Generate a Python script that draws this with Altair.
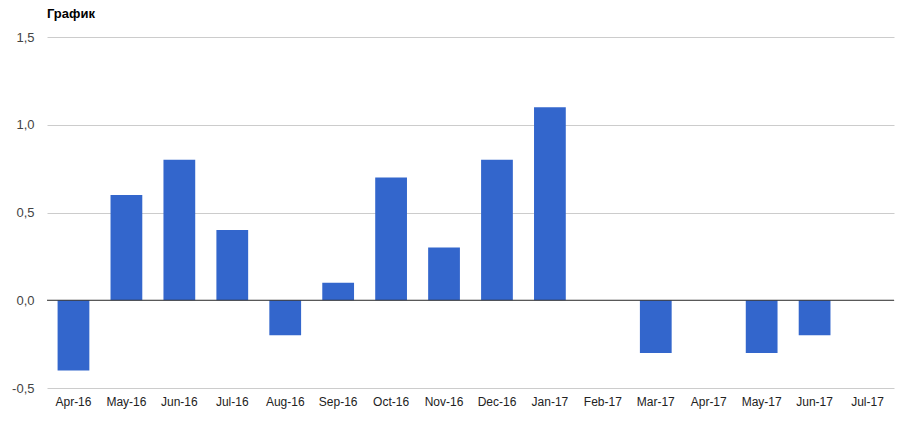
import altair as alt
import pandas as pd

months = ["Apr-16", "May-16", "Jun-16", "Jul-16", "Aug-16", "Sep-16", "Oct-16", "Nov-16",
          "Dec-16", "Jan-17", "Feb-17", "Mar-17", "Apr-17", "May-17", "Jun-17", "Jul-17"]
values = [-0.4, 0.6, 0.8, 0.4, -0.2, 0.1, 0.7, 0.3, 0.8, 1.1, 0.0, -0.3, 0.0, -0.3, -0.2, 0.0]
y_ticks = [-0.5, 0.0, 0.5, 1.0, 1.5]

df = pd.DataFrame({"month": months, "value": values})
FONT = "Liberation Sans"

label_expr = "(datum.value < 0 ? '-' : '') + replace(format(abs(datum.value), '.1f'), '.', ',')"

bars = alt.Chart(df).mark_bar(color="#3366cc").encode(
    x=alt.X("month:N", sort=months,
            scale=alt.Scale(paddingInner=0.4, paddingOuter=0.2),
            axis=alt.Axis(title=None, labelAngle=0, domain=False, ticks=False,
                          labelPadding=8, labelFontSize=12, labelColor="#222222",
                          labelFont=FONT)),
    y=alt.Y("value:Q", scale=alt.Scale(domain=[-0.5, 1.5], nice=False),
            axis=alt.Axis(title=None, values=y_ticks, labelExpr=label_expr,
                          domain=False, ticks=False, labelPadding=13,
                          labelFontSize=13, labelColor="#444444", labelFont=FONT,
                          gridColor="#cccccc")),
)

zero = alt.Chart(pd.DataFrame({"z": [0.0]})).mark_rule(color="#333333", strokeWidth=1).encode(
    y="z:Q"
)

chart = alt.layer(bars, zero).properties(
    width=847, height=351,
    title=alt.TitleParams("График", anchor="start", frame="group", font=FONT,
                          fontSize=13, fontWeight="bold", color="#000000", offset=10),
    autosize=alt.AutoSizeParams(type="none"),
    padding={"left": 39, "top": 29, "right": 16, "bottom": 40},
).configure_view(stroke=None)

chart.save("out.html", embed_options={"renderer": "svg", "actions": False})
